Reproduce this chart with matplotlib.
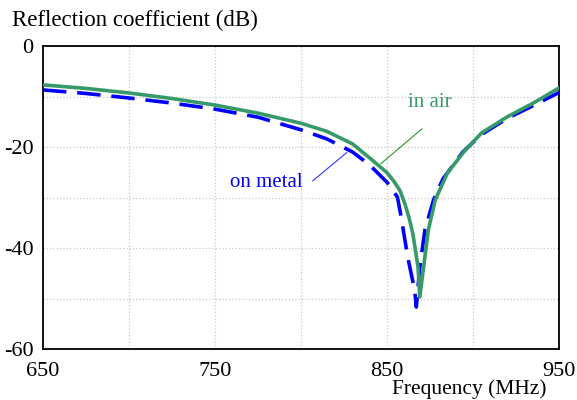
import matplotlib
matplotlib.use("Agg")
import matplotlib.pyplot as plt

plt.rcParams['font.family'] = ['Liberation Serif', 'DejaVu Serif']
plt.rcParams['axes.unicode_minus'] = False

freq_air = [650, 675, 700, 725, 750, 775, 800, 815, 830, 840, 850, 854, 857.6, 860.5, 863, 865,
            868, 869, 871, 874, 878, 885, 895, 905, 920, 935, 950]
db_air = [-7.7, -8.4, -9.3, -10.4, -11.7, -13.3, -15.3, -16.9, -19.4, -22.2, -25.1, -26.8, -28.7,
          -31.4, -34.3, -37.2, -43.8, -49.7, -44.4, -36.4, -30.5, -25.2, -20.8, -17.2, -14.0,
          -11.3, -8.3]

freq_metal = [650, 675, 700, 725, 750, 775, 800, 815, 830, 840, 850, 856, 858, 862, 866, 867,
              869, 872, 877, 882.5, 894, 905, 920, 935, 950]
db_metal = [-8.7, -9.4, -10.3, -11.3, -12.5, -14.1, -16.6, -18.4, -21.0, -23.6, -27.0, -29.9,
            -33.5, -41.8, -48.3, -51.7, -43.8, -36.4, -30.5, -26.3, -21.0, -17.5, -14.3, -11.8, -9.2]

x_ticks = [650, 750, 850, 950]
y_ticks = [0, -20, -40, -60]

fig = plt.figure(figsize=(5.77, 4.0), dpi=100)
ax = fig.add_axes([0.0745, 0.1275, 0.8945, 0.7575])

ax.plot(freq_metal, db_metal, color='#0000ff', lw=2.6, dashes=(6.5, 3), zorder=3)
ax.plot(freq_air, db_air, color='#359a68', lw=2.6, zorder=4)

ax.set_xlim(650, 950)
ax.set_ylim(-60, 0)
ax.set_xticks(x_ticks)
ax.set_yticks(y_ticks)
ax.set_xticks(range(650, 951, 50), minor=True)
ax.set_yticks(range(-60, 1, 10), minor=True)
ax.grid(True, which='both', color='#c8c8c8', linestyle=':', linewidth=0.9)
ax.tick_params(which='both', length=0, labelsize=16)
ax.tick_params(axis='x', pad=9)
ax.tick_params(axis='y', pad=7)
for s in ax.spines.values():
    s.set_linewidth(1.3)
    s.set_color('black')

fig.text(12/577, 1 - 20/400, 'Reflection coefficient (dB)', fontsize=16.5, va='center', ha='left')
fig.text(546/577, 1 - 389/400, 'Frequency (MHz)', fontsize=15.5, va='center', ha='right')

ax.text(875, -11.2, 'in air', color='#3a9a6a', fontsize=15, ha='center', va='center')
ax.plot([870.3, 846.4], [-16.4, -23.3], color='#2a9a2a', lw=0.8)
ax.text(780, -27.1, 'on metal', color='#0000ff', fontsize=15, ha='center', va='center')
ax.plot([806.8, 826.6], [-26.7, -21.1], color='#3333ff', lw=0.8)

fig.savefig('out.png', dpi=100)
